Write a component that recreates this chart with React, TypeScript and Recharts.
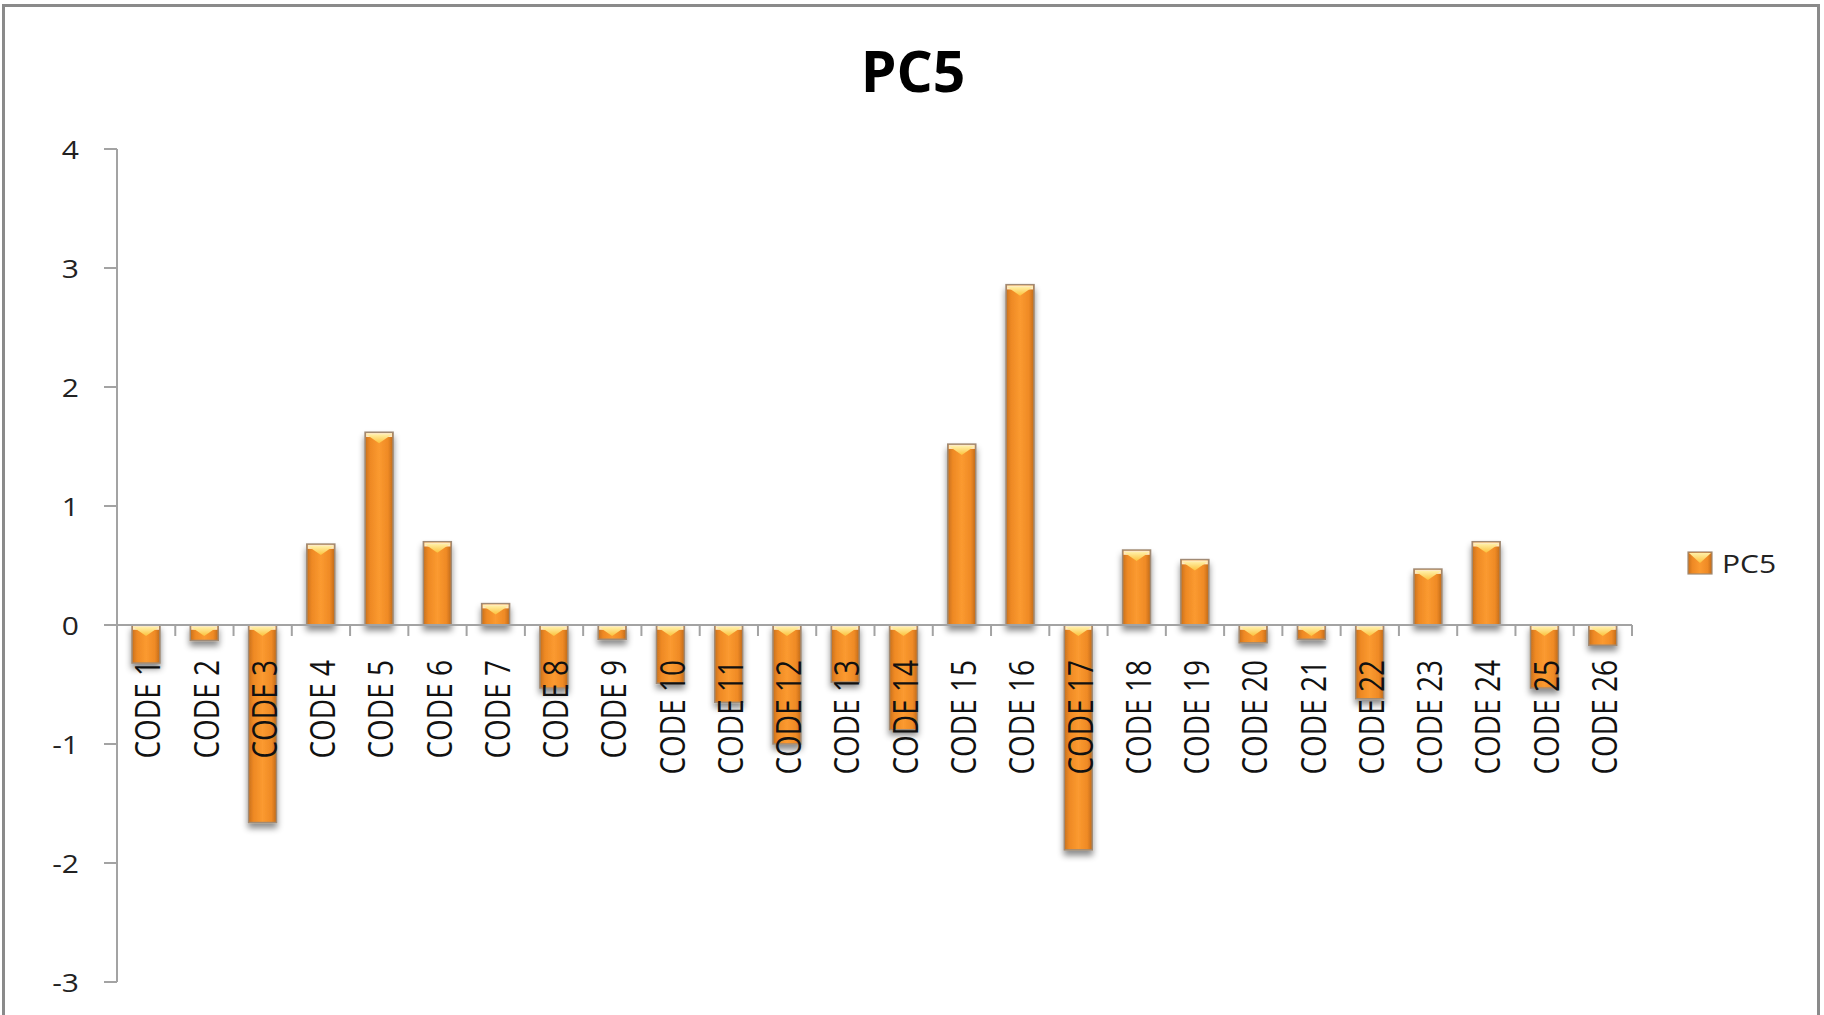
import React from 'react';
import { BarChart, Bar, XAxis, YAxis, ReferenceLine, Legend } from 'recharts';

// ---- data ----
const categories = [
  'CODE 1', 'CODE 2', 'CODE 3', 'CODE 4', 'CODE 5', 'CODE 6', 'CODE 7', 'CODE 8', 'CODE 9',
  'CODE 10', 'CODE 11', 'CODE 12', 'CODE 13', 'CODE 14', 'CODE 15', 'CODE 16', 'CODE 17',
  'CODE 18', 'CODE 19', 'CODE 20', 'CODE 21', 'CODE 22', 'CODE 23', 'CODE 24', 'CODE 25', 'CODE 26',
];
const pc5Values = [
  -0.32, -0.13, -1.66, 0.68, 1.62, 0.7, 0.18, -0.53, -0.12,
  -0.49, -0.65, -1.0, -0.48, -0.88, 1.52, 2.86, -1.89,
  0.63, 0.55, -0.15, -0.12, -0.62, 0.47, 0.7, -0.53, -0.17,
];
const yTicks = [-3, -2, -1, 0, 1, 2, 3, 4];
const seriesName = 'PC5';
const chartTitle = 'PC5';

const data = categories.map((code, i) => ({ code, [seriesName]: pc5Values[i] }));

// ---- layout ----
const W = 1824;
const H = 1015;
const Y_MIN = yTicks[0];
const Y_MAX = yTicks[yTicks.length - 1];
const Y_AXIS_W = 60;
const X_AXIS_H = 1;
const MARGIN = { top: 149, right: 192, bottom: 32, left: 57 };
const PLOT_W = W - MARGIN.left - Y_AXIS_W - MARGIN.right;
const PLOT_H = H - MARGIN.top - MARGIN.bottom - X_AXIS_H;
const BAND = PLOT_W / categories.length;
// vertical position of the value 0 inside the plot area
const ZERO_Y = MARGIN.top + (PLOT_H * (Y_MAX - 0)) / (Y_MAX - Y_MIN);
const AXIS_GREY = '#a3a3a3';
const FONT = '"Open Sans", "Noto Sans", sans-serif';

// Bar with a bevelled top face and a soft drop shadow
function BevelBar(props: any) {
  const { x, y, width, height } = props;
  if (width == null || height == null) return null;
  const top = height >= 0 ? y : y + height;
  const h = Math.abs(height);
  const triH = Math.min(11, h);
  return (
    <g filter="url(#barShadow)">
      <rect x={x} y={top} width={width} height={h} fill="url(#barBody)" stroke="#a08a74" strokeWidth={1.5} />
      <rect x={x + 1} y={top + 0.8} width={width - 2} height={Math.min(4, h)} fill="#fde9c4" />
      <polygon
        points={`${x + 1},${top + 2} ${x + width - 1},${top + 2} ${x + width / 2},${top + triH}`}
        fill="url(#capTri)"
      />
    </g>
  );
}

// Category label hanging under the zero line, plus boundary tick marks
function XTick(props: any) {
  const { x, payload, index } = props;
  const left = x - BAND / 2;
  const right = x + BAND / 2;
  return (
    <g>
      <line x1={left} x2={left} y1={ZERO_Y} y2={ZERO_Y + 11} stroke={AXIS_GREY} strokeWidth={2} />
      {index === categories.length - 1 && (
        <line x1={right} x2={right} y1={ZERO_Y} y2={ZERO_Y + 11} stroke={AXIS_GREY} strokeWidth={2} />
      )}
      <g transform={`translate(${x + 1},${ZERO_Y + 35}) rotate(-90) scale(1,1.22)`}>
        <text x={0} y={0} textAnchor="end" dominantBaseline="central" fontFamily={FONT} fontSize={28} fill="#111">
          {payload.value}
        </text>
      </g>
    </g>
  );
}

function YTick(props: any) {
  const { x, y, payload } = props;
  return (
    <g transform={`translate(${x},${y}) scale(1.2,1)`}>
      <text x={0} y={0} textAnchor="end" dominantBaseline="central" fontFamily={FONT} fontSize={25} fill="#222">
        {payload.value}
      </text>
    </g>
  );
}

function LegendBox() {
  return (
    <svg width={110} height={36}>
      <rect x={2} y={6} width={24} height={22} fill="url(#barBody)" stroke="#a08a74" strokeWidth={1.2} />
      <polygon points="3,7 25,7 14,17" fill="url(#capTri)" />
      <g transform="translate(36,17) scale(1.2,1)">
        <text x={0} y={0} dominantBaseline="central" fontFamily={FONT} fontSize={25} fill="#222">
          {seriesName}
        </text>
      </g>
    </svg>
  );
}

export default function App() {
  return (
    <div style={{ position: 'absolute', left: 0, top: 0, width: W, height: H, background: '#fff', overflow: 'hidden' }}>
      <svg width={0} height={0} style={{ position: 'absolute' }}>
        <defs>
          <linearGradient id="barBody" x1="0" y1="0" x2="1" y2="0">
            <stop offset="0%" stopColor="#c8701c" />
            <stop offset="18%" stopColor="#ee8924" />
            <stop offset="50%" stopColor="#fb9a30" />
            <stop offset="82%" stopColor="#ef8a25" />
            <stop offset="100%" stopColor="#c06a1a" />
          </linearGradient>
          <linearGradient id="capTri" x1="0" y1="0" x2="0" y2="1">
            <stop offset="0%" stopColor="#fff0a8" />
            <stop offset="100%" stopColor="#fcc23c" />
          </linearGradient>
          <filter id="barShadow" x="-40%" y="-60%" width="180%" height="260%">
            <feDropShadow dx="0" dy="5" stdDeviation="3" floodColor="#000" floodOpacity="0.45" />
          </filter>
        </defs>
      </svg>

      {/* chart frame */}
      <div
        style={{
          position: 'absolute', left: 2, top: 4, width: 1818, height: H - 4, boxSizing: 'border-box',
          borderTop: '3px solid #8a8a8a', borderLeft: '3px solid #8a8a8a', borderRight: '3px solid #8a8a8a',
        }}
      />

      <svg width={W} height={120} style={{ position: 'absolute', left: 0, top: 0 }}>
        <text x={913} y={92} textAnchor="middle" fontFamily={FONT} fontWeight={700} fontSize={57} fill="#000">
          {chartTitle}
        </text>
      </svg>

      <div style={{ position: 'absolute', left: 0, top: 0 }}>
        <BarChart width={W} height={H} data={data} margin={MARGIN}>
          <XAxis
            dataKey="code"
            height={X_AXIS_H}
            axisLine={false}
            tickLine={false}
            tickSize={0}
            tickMargin={0}
            interval={0}
            tick={<XTick />}
          />
          <YAxis
            width={Y_AXIS_W}
            domain={[Y_MIN, Y_MAX]}
            ticks={yTicks}
            interval={0}
            allowDataOverflow
            axisLine={{ stroke: AXIS_GREY, strokeWidth: 2 }}
            tickLine={{ stroke: AXIS_GREY, strokeWidth: 2 }}
            tickSize={13}
            tickMargin={25}
            tick={<YTick />}
          />
          <ReferenceLine y={0} stroke={AXIS_GREY} strokeWidth={2} />
          <Legend
            layout="horizontal"
            verticalAlign="middle"
            align="center"
            content={() => <LegendBox />}
            wrapperStyle={{ left: 1686, top: 546, width: 120 }}
          />
          <Bar dataKey={seriesName} name={seriesName} barSize={28} shape={<BevelBar />} isAnimationActive={false} />
        </BarChart>
      </div>
    </div>
  );
}
